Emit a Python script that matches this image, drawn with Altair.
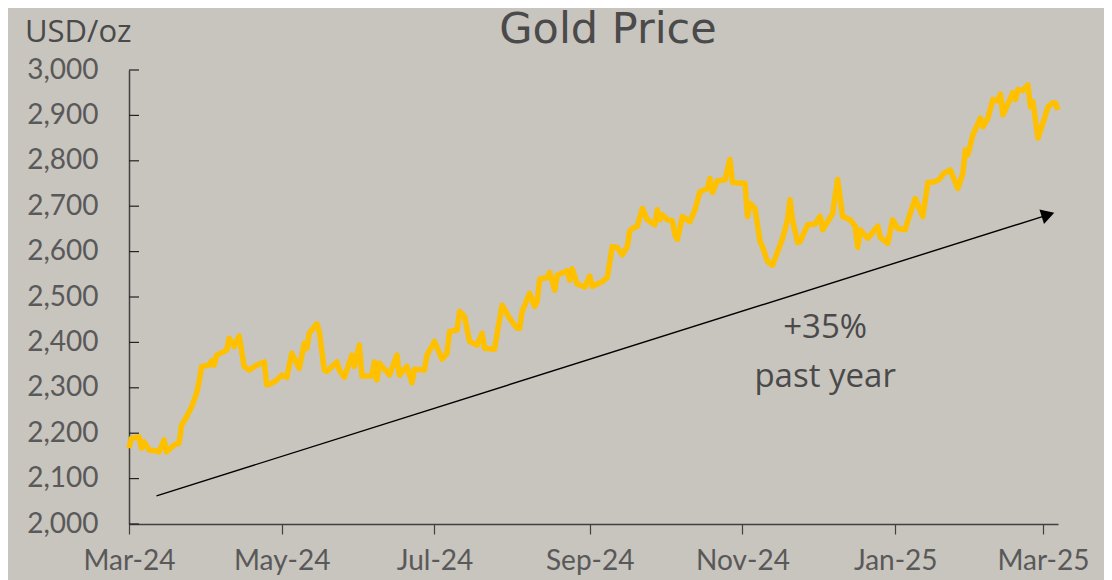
import altair as alt
import pandas as pd

# ---- data ----
dates = [
    "2024-03-01", "2024-03-02", "2024-03-05", "2024-03-06", "2024-03-07", "2024-03-09",
    "2024-03-12", "2024-03-13", "2024-03-15", "2024-03-16", "2024-03-19", "2024-03-21",
    "2024-03-22", "2024-03-24", "2024-03-26", "2024-03-28", "2024-03-29", "2024-03-30",
    "2024-04-02", "2024-04-03", "2024-04-04", "2024-04-05", "2024-04-09", "2024-04-10",
    "2024-04-12", "2024-04-14", "2024-04-16", "2024-04-18", "2024-04-21", "2024-04-24",
    "2024-04-25", "2024-04-27", "2024-04-29", "2024-05-01", "2024-05-03", "2024-05-05",
    "2024-05-08", "2024-05-10", "2024-05-11", "2024-05-12", "2024-05-15", "2024-05-16",
    "2024-05-18", "2024-05-19", "2024-05-23", "2024-05-24", "2024-05-26", "2024-05-29",
    "2024-05-30", "2024-06-01", "2024-06-02", "2024-06-06", "2024-06-07", "2024-06-08",
    "2024-06-09", "2024-06-13", "2024-06-16", "2024-06-17", "2024-06-20", "2024-06-22",
    "2024-06-23", "2024-06-27", "2024-06-28", "2024-07-01", "2024-07-04", "2024-07-06",
    "2024-07-07", "2024-07-10", "2024-07-11", "2024-07-13", "2024-07-15", "2024-07-18",
    "2024-07-20", "2024-07-21", "2024-07-25", "2024-07-26", "2024-07-28", "2024-07-31",
    "2024-08-03", "2024-08-04", "2024-08-05", "2024-08-08", "2024-08-10", "2024-08-11",
    "2024-08-12", "2024-08-15", "2024-08-16", "2024-08-18", "2024-08-19", "2024-08-23",
    "2024-08-24", "2024-08-25", "2024-08-27", "2024-08-30", "2024-09-01", "2024-09-02",
    "2024-09-06", "2024-09-08", "2024-09-10", "2024-09-12", "2024-09-14", "2024-09-16",
    "2024-09-17", "2024-09-18", "2024-09-20", "2024-09-22", "2024-09-24", "2024-09-27",
    "2024-09-28", "2024-09-29", "2024-09-30", "2024-10-02", "2024-10-04", "2024-10-05",
    "2024-10-06", "2024-10-08", "2024-10-11", "2024-10-13", "2024-10-15", "2024-10-18",
    "2024-10-19", "2024-10-20", "2024-10-22", "2024-10-25", "2024-10-27", "2024-10-28",
    "2024-11-02", "2024-11-03", "2024-11-04", "2024-11-06", "2024-11-08", "2024-11-09",
    "2024-11-11", "2024-11-13", "2024-11-17", "2024-11-19", "2024-11-20", "2024-11-21",
    "2024-11-23", "2024-11-24", "2024-11-27", "2024-11-30", "2024-12-02", "2024-12-03",
    "2024-12-07", "2024-12-09", "2024-12-11", "2024-12-14", "2024-12-16", "2024-12-17",
    "2024-12-18", "2024-12-21", "2024-12-25", "2024-12-26", "2024-12-29", "2024-12-31",
    "2025-01-02", "2025-01-05", "2025-01-06", "2025-01-09", "2025-01-12", "2025-01-14",
    "2025-01-17", "2025-01-19", "2025-01-20", "2025-01-23", "2025-01-26", "2025-01-28",
    "2025-01-29", "2025-01-30", "2025-02-01", "2025-02-04", "2025-02-05", "2025-02-07",
    "2025-02-09", "2025-02-11", "2025-02-12", "2025-02-13", "2025-02-17", "2025-02-18",
    "2025-02-19", "2025-02-21", "2025-02-23", "2025-02-24", "2025-02-25", "2025-02-27",
    "2025-03-01", "2025-03-03", "2025-03-05", "2025-03-06", "2025-03-07",
]
prices = [
    2167, 2189, 2192, 2167, 2181, 2163,
    2161, 2159, 2185, 2159, 2174, 2178,
    2218, 2236, 2258, 2288, 2313, 2347,
    2350, 2360, 2350, 2372, 2383, 2409,
    2391, 2414, 2347, 2339, 2350, 2357,
    2306, 2310, 2317, 2328, 2323, 2376,
    2343, 2398, 2387, 2420, 2441, 2424,
    2339, 2336, 2357, 2339, 2323, 2372,
    2347, 2394, 2326, 2326, 2357, 2317,
    2354, 2328, 2372, 2328, 2347, 2311,
    2341, 2339, 2372, 2402, 2363, 2376,
    2424, 2427, 2468, 2457, 2402, 2394,
    2420, 2387, 2385, 2420, 2482, 2453,
    2431, 2431, 2468, 2508, 2479, 2490,
    2539, 2543, 2554, 2515, 2548, 2558,
    2537, 2562, 2528, 2522, 2546, 2523,
    2534, 2543, 2611, 2609, 2593, 2611,
    2646, 2651, 2656, 2695, 2670, 2659,
    2692, 2670, 2681, 2670, 2668, 2637,
    2627, 2677, 2666, 2692, 2732, 2739,
    2761, 2730, 2756, 2758, 2803, 2752,
    2750, 2677, 2706, 2695, 2622, 2611,
    2578, 2570, 2629, 2670, 2714, 2670,
    2620, 2622, 2659, 2661, 2678, 2648,
    2684, 2759, 2677, 2670, 2656, 2609,
    2648, 2629, 2656, 2632, 2618, 2670,
    2651, 2648, 2668, 2717, 2677, 2752,
    2754, 2761, 2771, 2780, 2739, 2772,
    2824, 2813, 2857, 2894, 2875, 2894,
    2935, 2932, 2947, 2901, 2950, 2935,
    2957, 2955, 2967, 2919, 2930, 2850,
    2883, 2919, 2928, 2927, 2912,
]

y_ticks = [2000, 2100, 2200, 2300, 2400, 2500, 2600, 2700, 2800, 2900, 3000]
x_tick_months = [(2024, 3), (2024, 5), (2024, 7), (2024, 9), (2024, 11), (2025, 1), (2025, 3)]

arrow_dates = ["2024-03-12", "2025-03-03"]
arrow_values = [2062, 2681]

note_lines = ["+35%", "past year"]
note_dates = ["2024-12-04", "2024-12-04"]
note_values = [2432, 2324]

title_text = "Gold Price"
unit_text = "USD/oz"

# ---- styling ----
BG = "#C8C4BE"
GOLD = "#FFC000"
AXIS_COL = "#404040"
LABEL_COL = "#595959"
TEXT_COL = "#4A4A4A"

df = pd.DataFrame({"date": dates, "price": prices})
arrow_df = pd.DataFrame({"date": [arrow_dates[0]], "date2": [arrow_dates[1]],
                         "v": [arrow_values[0]], "v2": [arrow_values[1]]})
head_df = pd.DataFrame({"date": [arrow_dates[1]], "v": [arrow_values[1]]})
note_df = pd.DataFrame({"date": note_dates, "v": note_values, "t": note_lines})
ticks_df = pd.DataFrame({"v": y_ticks})

x_scale = alt.Scale(type="utc",
                    domain=[alt.DateTime(year=2024, month=3, date=1, utc=True),
                            alt.DateTime(year=2025, month=3, date=7, utc=True)])
y_scale = alt.Scale(domain=[2000, 3000], nice=False, zero=False)

x_axis = alt.Axis(
    values=[alt.DateTime(year=y, month=m, date=1, utc=True) for y, m in x_tick_months],
    format="%b-%y", title=None, grid=False,
    domainColor=AXIS_COL, domainWidth=1.5, tickColor=AXIS_COL, tickWidth=1.2,
    tickSize=10, labelFont="Lato", labelFontSize=28, labelColor=LABEL_COL,
    labelPadding=13, labelFlush=False, labelOverlap=False,
)
y_axis = alt.Axis(
    values=y_ticks, format=",d", title=None, grid=False, ticks=False, tickSize=0,
    domainColor=AXIS_COL, domainWidth=1.5, labelFont="Lato", labelFontSize=28,
    labelColor=LABEL_COL, labelPadding=31,
)

line = alt.Chart(df).mark_line(color=GOLD, strokeWidth=5.5, strokeJoin="round").encode(
    x=alt.X("date:T", scale=x_scale, axis=x_axis),
    y=alt.Y("price:Q", scale=y_scale, axis=y_axis),
)

yticks = alt.Chart(ticks_df).mark_rule(color="#222222", strokeWidth=1.2).encode(
    y=alt.Y("v:Q", scale=y_scale),
    x=alt.value(0), x2=alt.value(10),
)

arrow = alt.Chart(arrow_df).mark_rule(color="black", strokeWidth=1.4).encode(
    x=alt.X("date:T", scale=x_scale), x2="date2:T",
    y=alt.Y("v:Q", scale=y_scale), y2="v2:Q",
)

head = alt.Chart(head_df).mark_point(
    shape="triangle-right", filled=True, color="black", size=230, angle=342.5, opacity=1
).encode(
    x=alt.X("date:T", scale=x_scale),
    y=alt.Y("v:Q", scale=y_scale),
)

note = alt.Chart(note_df).mark_text(
    font="Open Sans", fontSize=33, color=TEXT_COL, align="center", baseline="middle"
).encode(
    x=alt.X("date:T", scale=x_scale),
    y=alt.Y("v:Q", scale=y_scale),
    text="t:N",
)

title = alt.Chart(pd.DataFrame({"t": [title_text]})).mark_text(
    font="DejaVu Sans", fontSize=43, color=TEXT_COL,
    align="center", baseline="alphabetic"
).encode(text="t:N", x=alt.value(479), y=alt.value(-27))

unit = alt.Chart(pd.DataFrame({"t": [unit_text]})).mark_text(
    font="Open Sans", fontSize=31, color=TEXT_COL, align="left", baseline="alphabetic"
).encode(text="t:N", x=alt.value(-104), y=alt.value(-28))

chart = alt.layer(line, yticks, arrow, head, note, title, unit).properties(
    width=929, height=454,
    autosize=alt.AutoSizeParams(type="none"),
    padding={"left": 121, "top": 62, "right": 46, "bottom": 56},
    background=BG,
).configure_view(stroke=None)

chart.save("out.html", embed_options={"renderer": "svg", "actions": False})
